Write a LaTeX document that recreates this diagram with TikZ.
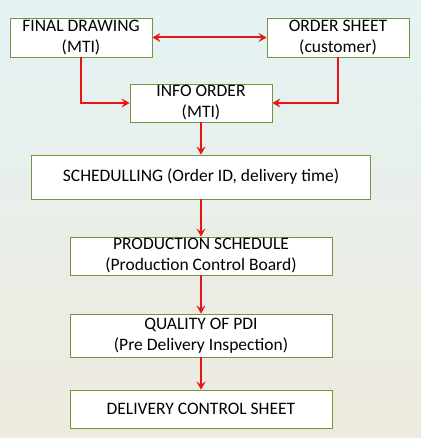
\documentclass[tikz,border=0pt]{standalone}
\usepackage{fontspec}
\setmainfont{Carlito}
\usetikzlibrary{arrows.meta}
\definecolor{boxgreen}{RGB}{119,147,60}
\definecolor{topbg}{RGB}{228,243,244}
\definecolor{midbg}{RGB}{243,246,241}
\definecolor{botbg}{RGB}{238,234,222}
\definecolor{arrowred}{RGB}{235,20,20}
\tikzset{redtip/.tip={Stealth[length=8pt,width=9pt,inset=3pt]}}
\begin{document}
\begin{tikzpicture}[x=1pt,y=-1pt]

      \shade[top color=topbg,middle color=midbg,bottom color=botbg] (0,0) rectangle (421,438);
      \useasboundingbox (0,0) rectangle (421,438);

      \begin{scope}[every node/.style={draw=boxgreen,line width=0.8pt,fill=white,align=center,
          inner sep=0pt,font=\fontsize{17.5}{21}\selectfont}]
        \node[minimum width=142,minimum height=39] (fd)  at (81,37.5)  {FINAL DRAWING\\(MTI)};
        \node[minimum width=142,minimum height=39] (os)  at (338,37.5) {ORDER SHEET\\(customer)};
        \node[minimum width=142,minimum height=38] (io)  at (201,103)  {INFO ORDER\\(MTI)};
        \node[minimum width=339,minimum height=44] (sch) at (201,177)  {SCHEDULLING (Order ID, delivery time)};
        \node[minimum width=262,minimum height=38] (ps)  at (201,256)  {PRODUCTION SCHEDULE\\(Production Control Board)};
        \node[minimum width=262,minimum height=43] (qp)  at (201,335.5) {QUALITY OF PDI\\(Pre Delivery Inspection)};
        \node[minimum width=262,minimum height=38] (dcs) at (201,409)  {DELIVERY CONTROL SHEET};
      \end{scope}

      \begin{scope}[arrowred,line width=2pt,-redtip]
        \draw[redtip-redtip] (fd) -- (os);
        \draw (fd.south) |- (io.west);
        \draw (os.south) |- (io.east);
        \draw (io) -- (sch);
        \draw (sch) -- (ps);
        \draw (ps) -- (qp);
        \draw (qp) -- (dcs);
      \end{scope}

    \end{tikzpicture}
\end{document}
